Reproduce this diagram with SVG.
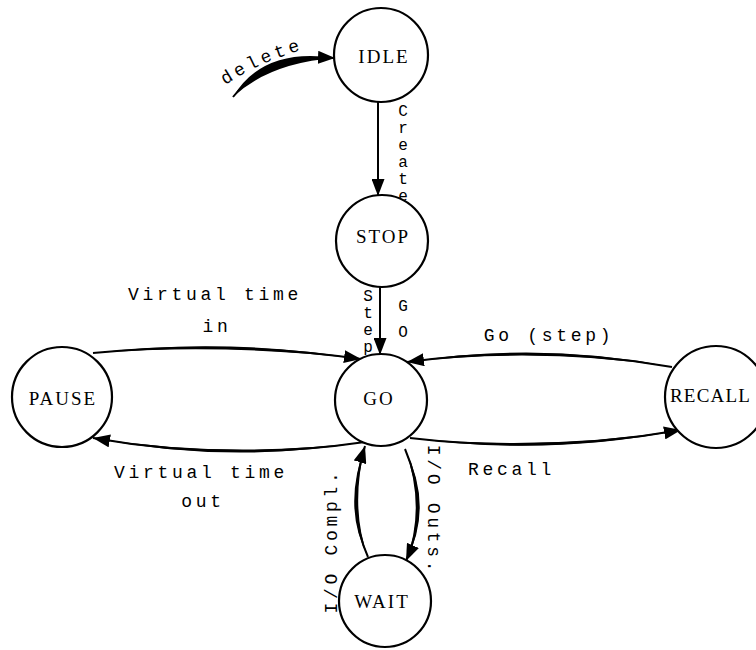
<svg xmlns="http://www.w3.org/2000/svg" width="756" height="650" viewBox="0 0 756 650">
  <style>
    .state circle { fill: #fff; stroke: #000; stroke-width: 2.2; }
    .state text { font-family: "Liberation Serif", "Times New Roman", serif; font-size: 19px; letter-spacing: 2px; fill: #000; text-anchor: middle; }
    .line { fill: none; stroke: #000; stroke-width: 2; marker-end: url(#head); }
    .body { fill: #000; stroke: none; }
    .lbl { font-family: "Liberation Mono", "Courier New", monospace; font-size: 18px; letter-spacing: 3.7px; fill: #000; }
    .stack { font-family: "Liberation Mono", "Courier New", monospace; font-size: 16px; fill: #000; writing-mode: vertical-rl; text-orientation: upright; }
  </style>
  <defs>
    <marker id="head" markerUnits="userSpaceOnUse" markerWidth="17" markerHeight="13" refX="17" refY="6.5" orient="auto">
      <path d="M0,0 L17,6.5 L0,13 Z" fill="#000"/>
    </marker>
    <path id="deletePath" d="M225,85 Q261,61 306,49"/>
  </defs>
  <rect width="756" height="650" fill="#fff"/>

  <!-- transitions -->
  <g id="connectors">
    <g id="e-delete">
      <path class="body" d="M233,97 Q269,63 335,58 Q263,47 233,97 Z"/>
      <path class="line" d="M233,97 Q266,55 335,58"/>
      <text class="lbl" font-size="17" letter-spacing="3.4"><textPath href="#deletePath">delete</textPath></text>
    </g>
    <g id="e-create">
      <path class="line" d="M378,102 L378,196"/>
      <text class="stack" x="403" y="103" letter-spacing="-1">Create</text>
    </g>
    <g id="e-step-go">
      <path class="line" d="M380,287 L380,355"/>
      <text class="stack" x="368" y="288" letter-spacing="-1">Step</text>
      <text class="stack" x="403" y="298" letter-spacing="8">GO</text>
    </g>
    <g id="e-vt-in">
      <path class="body" d="M93,353 Q226,337 361,359 Q226,343 93,353 Z"/>
      <path class="line" d="M93,353 Q226,340 361,359"/>
      <text class="lbl" x="215" y="300" text-anchor="middle">Virtual time</text>
      <text class="lbl" x="217" y="332" text-anchor="middle">in</text>
    </g>
    <g id="e-vt-out">
      <path class="body" d="M365,442 Q229,459 93,438 Q229,465 365,442 Z"/>
      <path class="line" d="M365,442 Q229,462 93,438"/>
      <text class="lbl" x="201" y="478" text-anchor="middle">Virtual time</text>
      <text class="lbl" x="203" y="507" text-anchor="middle">out</text>
    </g>
    <g id="e-go-step">
      <path class="body" d="M672,367 Q541,341 407,362 Q541,347 672,367 Z"/>
      <path class="line" d="M672,367 Q541,344 407,362"/>
      <text class="lbl" x="549" y="341" text-anchor="middle">Go (step)</text>
    </g>
    <g id="e-recall">
      <path class="body" d="M410,438 Q546,451 681,430 Q546,457 410,438 Z"/>
      <path class="line" d="M410,438 Q546,454 681,430"/>
      <text class="lbl" x="468" y="475" letter-spacing="2.6">Recall</text>
    </g>
    <g id="e-io-outs">
      <path class="body" d="M405,449 Q434,507 406,561 Q426,507 405,449 Z"/>
      <path class="line" d="M405,449 Q430,507 406,561"/>
      <text class="lbl" text-anchor="middle" transform="translate(428,510) rotate(90)">I/O Outs.</text>
    </g>
    <g id="e-io-compl">
      <path class="body" d="M368,557 Q342,508 365,446 Q350,508 368,557 Z"/>
      <path class="line" d="M368,557 Q346,508 365,446"/>
      <text class="lbl" text-anchor="middle" transform="translate(337,541) rotate(-90)">I/O Compl.</text>
    </g>
  </g>

  <!-- states -->
  <g id="IDLE" class="state">
    <circle cx="381" cy="55" r="47"/>
    <text x="384" y="63">IDLE</text>
  </g>
  <g id="STOP" class="state">
    <circle cx="382" cy="241" r="46"/>
    <text x="383" y="243">STOP</text>
  </g>
  <g id="GO" class="state">
    <circle cx="381" cy="400" r="46"/>
    <text x="379" y="405">GO</text>
  </g>
  <g id="PAUSE" class="state">
    <circle cx="62" cy="397" r="50"/>
    <text x="63" y="405">PAUSE</text>
  </g>
  <g id="RECALL" class="state">
    <circle cx="716" cy="397" r="51"/>
    <text x="670" y="402" style="text-anchor:start; letter-spacing:1.2px">RECALL</text>
  </g>
  <g id="WAIT" class="state">
    <circle cx="385" cy="601" r="46"/>
    <text x="382" y="608">WAIT</text>
  </g>
</svg>
